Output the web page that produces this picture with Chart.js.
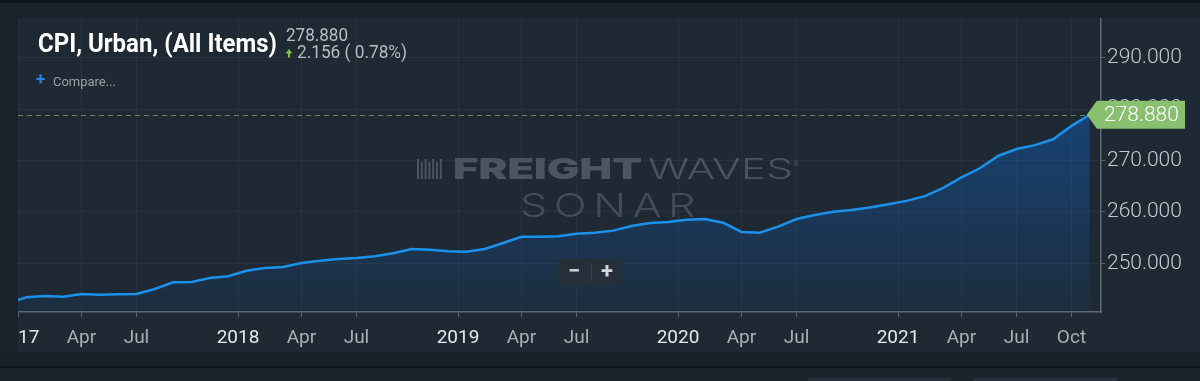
<!DOCTYPE html>
<html><head><meta charset="utf-8">
<script src="https://cdn.jsdelivr.net/npm/chart.js@4/dist/chart.umd.min.js"></script>
<style>
html,body{margin:0;padding:0;background:#19222a;overflow:hidden}
#wrap{position:relative;width:1200px;height:381px}
canvas{display:block}
</style></head><body>
<div id="wrap"><canvas id="c" width="1200" height="381"></canvas></div>
<script>
// ---- data (monthly CPI, Urban, All Items) ----
const months = ['2016-12',
 '2017-01','2017-02','2017-03','2017-04','2017-05','2017-06','2017-07','2017-08','2017-09','2017-10','2017-11','2017-12',
 '2018-01','2018-02','2018-03','2018-04','2018-05','2018-06','2018-07','2018-08','2018-09','2018-10','2018-11','2018-12',
 '2019-01','2019-02','2019-03','2019-04','2019-05','2019-06','2019-07','2019-08','2019-09','2019-10','2019-11','2019-12',
 '2020-01','2020-02','2020-03','2020-04','2020-05','2020-06','2020-07','2020-08','2020-09','2020-10','2020-11','2020-12',
 '2021-01','2021-02','2021-03','2021-04','2021-05','2021-06','2021-07','2021-08','2021-09','2021-10','2021-11'];
const cpiValues = [242.30,
 243.44,243.69,243.56,244.08,243.95,244.01,244.08,245.05,246.35,246.41,247.18,247.51,
 248.60,249.13,249.32,250.10,250.54,250.87,251.07,251.40,251.98,252.82,252.69,252.37,
 252.29,252.82,253.98,255.20,255.20,255.28,255.79,255.99,256.38,257.28,257.86,258.06,
 258.50,258.64,257.92,256.12,255.99,257.15,258.63,259.43,260.04,260.39,260.88,261.52,
 262.16,263.08,264.70,266.74,268.49,270.88,272.23,272.98,274.12,276.72,278.88];
const yearTickLabels = ['2017','2018','2019','2020','2021'];
const quarterTickMonths = ['2017-04','2017-07','2018-04','2018-07','2019-04','2019-07','2020-04','2020-07','2021-04','2021-07','2021-10'];
const monthNames = ['Jan','Feb','Mar','Apr','May','Jun','Jul','Aug','Sep','Oct','Nov','Dec'];
const yTickValues = [250,260,270,280,290];
const seriesTitle = 'CPI, Urban, (All Items)';
const lastValueText = '278.880';
const changeText = '2.156 ( 0.78%)';
const compareText = 'Compare...';

// month index: 0 = Jan 2017
const mIndex = s => (parseInt(s.slice(0,4))-2017)*12 + parseInt(s.slice(5,7))-1;
const yearTickOffset = -0.46; // year boundary drawn half a month before the January point
const xMin = -0.46, xMax = 58.61;
const yMin = 240.58, yMax = 297.48;

const points = months.map((m,i)=>({x:mIndex(m), y:cpiValues[i]}));
const tickDefs = [];
yearTickLabels.forEach(y=>tickDefs.push({v:(parseInt(y)-2017)*12+yearTickOffset, label:y, year:true}));
quarterTickMonths.forEach(m=>tickDefs.push({v:mIndex(m), label:monthNames[parseInt(m.slice(5,7))-1], year:false}));
tickDefs.sort((a,b)=>a.v-b.v);

function fitText(c, text, x, y, w, font, color){
  c.save(); c.font = font; c.fillStyle = color; c.textBaseline = 'alphabetic'; c.textAlign='left';
  const m = c.measureText(text).width; const s = w/m;
  c.translate(x,y); c.scale(s,1); c.fillText(text,0,0); c.restore();
}

const bgPlugin = {
  id:'bg',
  beforeDraw(chart){
    const c = chart.ctx;
    c.save();
    c.fillStyle = '#1a232b'; c.fillRect(0,0,1200,381);
    c.fillStyle = '#10171c'; c.fillRect(0,0,1200,3);
    c.fillStyle = '#1e2933'; c.fillRect(18,18,1182,334);
    c.fillStyle = '#182028'; c.fillRect(0,352,1200,14);
    c.fillStyle = '#0d1317'; c.fillRect(0,366,1200,2);
    c.fillStyle = '#1b242c'; c.fillRect(0,368,1200,13);
    c.fillStyle = '#28323c'; c.fillRect(808,378,143,3); c.fillRect(974,378,143,3);
    c.restore();
  },
  beforeDatasetsDraw(chart){
    const c = chart.ctx;
    c.save();
    // watermark
    c.fillStyle = '#4a545e';
    for(let i=0;i<7;i++){ const bx = 417+i*3.8; c.fillRect(bx,159+(i%2?3:0),2,20-(i%2?3:0)); }
    fitText(c,'FREIGHT',453,179,189,'900 28px Inter','#4b555f');
    fitText(c,'WAVES',648,179,145,'300 28px Inter','#4a545e');
    c.font='8px Roboto'; c.fillStyle='#48525c'; c.fillText('®',793,166);
    c.restore();
    c.save(); c.letterSpacing='5px';
    fitText(c,'SONAR',520,217,182,'300 33px Inter','#434d58');
    c.restore();
  },
  afterDatasetsDraw(chart){
    const c = chart.ctx, xs = chart.scales.x, ys = chart.scales.y;
    const last = points[points.length-1];
    const lx = xs.getPixelForValue(last.x), ly = ys.getPixelForValue(last.y);
    c.save();
    c.strokeStyle = 'rgba(125,160,110,0.75)'; c.lineWidth = 1; c.setLineDash([5,4]);
    c.beginPath(); c.moveTo(chart.chartArea.left, Math.round(ly)+0.5); c.lineTo(lx, Math.round(ly)+0.5); c.stroke();
    c.setLineDash([]);
    // zoom buttons
    c.fillStyle = '#252f39';
    c.beginPath(); c.roundRect(558,259,64,26,3); c.fill();
    c.strokeStyle = '#37424c'; c.beginPath(); c.moveTo(591.5,263); c.lineTo(591.5,281); c.stroke();
    c.fillStyle = '#d2d6da'; c.font = 'bold 22px Roboto'; c.textAlign='center'; c.textBaseline='middle';
    c.fillText('\u2212',574,272); c.fillText('+',607,272);
    c.restore();
  },
  afterDraw(chart){
    const c = chart.ctx, xs = chart.scales.x, ys = chart.scales.y;
    c.save();
    c.fillStyle = '#19212a'; c.fillRect(0,3,18,349);
    c.fillStyle = '#1a232b'; c.fillRect(0,3,1200,15);
    // price tag
    const last = points[points.length-1];
    const lx = xs.getPixelForValue(last.x), ly = ys.getPixelForValue(last.y);
    c.fillStyle = '#88c070';
    c.beginPath(); c.moveTo(lx-3,ly); c.lineTo(lx+7,ly-14); c.lineTo(1185,ly-14); c.lineTo(1185,ly+14); c.lineTo(lx+7,ly+14); c.closePath(); c.fill();
    c.fillStyle = '#ffffff'; c.font = '300 21px Roboto'; c.textBaseline='middle'; c.textAlign='left';
    c.fillText(lastValueText,1104,ly+1);
    // header
    fitText(c,seriesTitle,38,52,239,'bold 25px Roboto','#ffffff');
    fitText(c,lastValueText,286,41,62,'19px Roboto','#b7bcc1');
    c.fillStyle = '#7cc24a';
    c.beginPath(); c.moveTo(285.5,53.5); c.lineTo(289,49); c.lineTo(292.5,53.5); c.closePath(); c.fill();
    c.fillRect(288,53,2,4.5);
    fitText(c,changeText,297,58,110,'19px Roboto','#b7bcc1');
    c.fillStyle = '#2f80e4'; c.font = 'bold 17px Roboto'; c.textBaseline='alphabetic';
    c.fillText('+',36,85);
    fitText(c,compareText,53,86,63,'13px Roboto','#9aa1a8');
    c.restore();
  }
};

const cv = document.getElementById('c');
new Chart(cv, {
  type:'line',
  data:{ datasets:[{
    data: points,
    borderColor:'#1a92ec', borderWidth:2.5, pointRadius:0, tension:0,
    fill:'start',
    backgroundColor:(ctx)=>{
      const a = ctx.chart.chartArea; if(!a) return 'rgba(15,95,190,0.3)';
      const g = ctx.chart.ctx.createLinearGradient(0,a.top,0,a.bottom);
      g.addColorStop(0,'rgba(15,95,190,0.65)');
      g.addColorStop(1,'rgba(15,95,190,0.08)');
      return g;
    }
  }]},
  options:{
    responsive:false, animation:false, events:[],
    layout:{padding:{left:18,top:19,right:0,bottom:0}},
    plugins:{legend:{display:false}, tooltip:{enabled:false}},
    scales:{
      x:{ type:'linear', min:xMin, max:xMax,
        afterBuildTicks:(s)=>{ s.ticks = tickDefs.map(t=>({value:t.v})); },
        afterFit:(s)=>{ s.height = 69; s.paddingLeft = 0; s.paddingRight = 0; },
        ticks:{ autoSkip:false, maxRotation:0, padding:10,
          callback:(v,i)=>tickDefs[i] ? tickDefs[i].label : '',
          color:(ctx)=> (tickDefs[ctx.index] && tickDefs[ctx.index].year) ? '#e6e8ea' : '#a9afb5',
          font:{family:'Roboto', size:19} },
        grid:{ color:'rgba(255,255,255,0.045)', tickColor:'#5b656f', tickLength:5, lineWidth:1 },
        border:{ color:'#5f6973', width:1.5 }
      },
      y:{ type:'linear', position:'right', min:yMin, max:yMax,
        afterBuildTicks:(s)=>{ s.ticks = yTickValues.map(v=>({value:v})); },
        afterFit:(s)=>{ s.width = 99; s.paddingTop = 0; s.paddingBottom = 0; },
        ticks:{ padding:2, callback:(v)=>Number(v).toFixed(3), color:'#c6cacf',
          font:{family:'Roboto', size:21, weight:'300'} },
        grid:{ color:'rgba(255,255,255,0.045)', tickColor:'#5b656f', tickLength:4, lineWidth:1 },
        border:{ color:'#5f6973', width:1.5 }
      }
    }
  },
  plugins:[bgPlugin]
});
</script>
</body></html>
